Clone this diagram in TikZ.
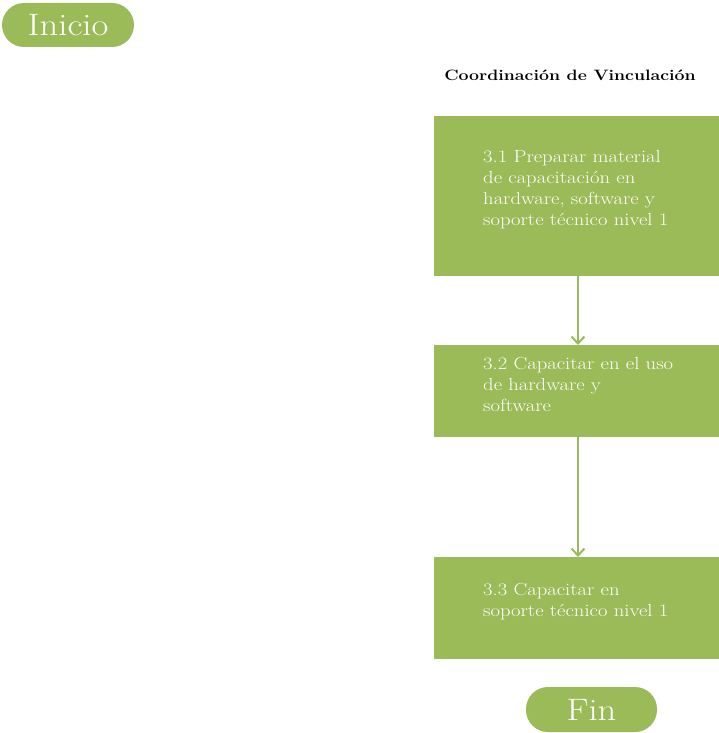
\documentclass[tikz,border=0pt]{standalone}
\usepackage{fontspec}
\usetikzlibrary{arrows.meta,calc}
\newfontfamily\widefont{Latin Modern Roman}[FakeStretch=1.18]
\definecolor{olive}{HTML}{9BBB59}
\tikzset{
  pill/.style={fill=olive, draw=none, rounded corners=22pt, text=white,
    font=\widefont\fontsize{31}{31}\selectfont, inner sep=0pt},
  taskbox/.style={fill=olive, draw=none, inner sep=0pt, anchor=north west},
  tasktext/.style={text=white, font=\widefont\fontsize{17.5}{21}\selectfont, align=left,
    anchor=west, inner sep=0pt},
  flow/.style={draw=olive, line width=2pt, -{Straight Barb[length=7pt,width=13pt,line width=2pt]}},
}
\begin{document}
\begin{tikzpicture}[x=1pt,y=-1pt]
  \useasboundingbox (0,0) rectangle (719,733);

  % start and end terminators
  \node[pill, minimum width=132pt, minimum height=44pt] (inicio) at (68,25) {Inicio};
  \node[pill, minimum width=131pt, minimum height=45pt] (fin) at (591.5,709.5) {Fin};

  % lane title
  \node[font=\widefont\bfseries\fontsize{15}{17}\selectfont, inner sep=0pt] (lane) at (570,75) {Coordinación de Vinculación};

  % task boxes
  \node[taskbox, minimum width=285pt, minimum height=160pt] (b1) at (434,116) {};
  \node[taskbox, minimum width=285pt, minimum height=92pt]  (b2) at (434,345) {};
  \node[taskbox, minimum width=285pt, minimum height=102pt] (b3) at (434,557) {};

  % task labels
  \node[tasktext] (t1) at ($(b1.west)+(49,-7)$) {3.1 Preparar material\\de capacitación en\\hardware, software y\\soporte técnico nivel 1};
  \node[tasktext] (t2) at ($(b2.west)+(49,-7)$) {3.2 Capacitar en el uso\\de hardware y\\software};
  \node[tasktext] (t3) at ($(b3.west)+(49,-7)$) {3.3 Capacitar en\\soporte técnico nivel 1};

  % connectors
  \coordinate (c1) at ($(b1.south west)+(144,0)$);
  \coordinate (c2) at ($(b2.north west)+(144,0)$);
  \coordinate (c3) at ($(b2.south west)+(144,0)$);
  \coordinate (c4) at ($(b3.north west)+(144,0)$);
  \draw[flow] (c1) -- (c2);
  \draw[flow] (c3) -- (c4);
\end{tikzpicture}
\end{document}
